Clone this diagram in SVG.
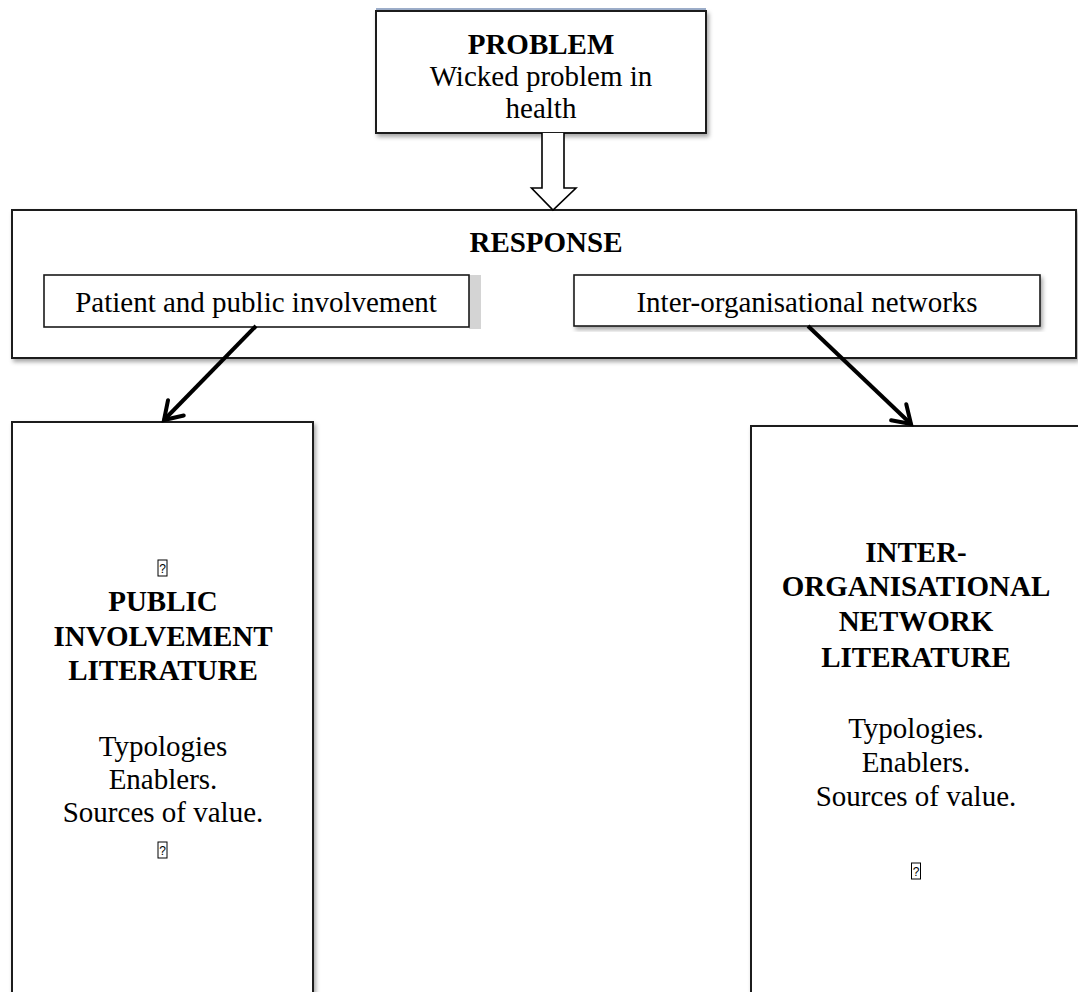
<svg xmlns="http://www.w3.org/2000/svg" width="1078" height="992" viewBox="0 0 1078 992">
  <style>
    .box { fill: #ffffff; stroke: #1a1a1a; stroke-width: 2; }
    .inner { fill: #ffffff; stroke: #1a1a1a; stroke-width: 1.6; }
    .t { font-family: "Liberation Serif", "Times New Roman", serif; font-size: 29px; fill: #000; text-anchor: middle; }
    .b { font-weight: bold; }
    .tofu-box { fill: #ffffff; stroke: #000; stroke-width: 1; }
    .tofu-q { font-family: "Liberation Sans", Arial, sans-serif; font-size: 12px; fill: #000; text-anchor: middle; }
    .conn { stroke: #000; stroke-width: 4; fill: none; }
  </style>
  <defs>
    <filter id="shadow" x="-5%" y="-5%" width="115%" height="115%">
      <feDropShadow dx="2" dy="3" stdDeviation="2" flood-color="#000" flood-opacity="0.35"/>
    </filter>
    <marker id="chev" viewBox="-22 -14 26 28" markerWidth="26" markerHeight="28" refX="0" refY="0" orient="auto" markerUnits="userSpaceOnUse">
      <path d="M -17 -11 L 0 0 L -17 11" fill="none" stroke="#000" stroke-width="4" stroke-linejoin="miter" stroke-linecap="round"/>
    </marker>
    <!-- placeholder glyph box used for the unrenderable bullet characters -->
    <g id="tofu">
      <rect class="tofu-box" x="-4.5" y="-16" width="9" height="16"/>
      <text class="tofu-q" x="0" y="-3.5">?</text>
    </g>
  </defs>

  <rect width="1078" height="992" fill="#ffffff"/>

  <!-- problem statement -->
  <g id="problem">
    <line x1="376" y1="9" x2="706" y2="9" stroke="#7d93b8" stroke-width="1.5"/>
    <rect class="box" x="376" y="11" width="330" height="122" filter="url(#shadow)"/>
    <text class="t b" x="541" y="54">PROBLEM</text>
    <text class="t" x="541" y="86">Wicked problem in</text>
    <text class="t" x="541" y="118">health</text>
  </g>

  <!-- response container -->
  <g id="response">
    <rect class="box" x="12" y="210" width="1064" height="148" filter="url(#shadow)"/>
    <text class="t b" x="546" y="252">RESPONSE</text>
  </g>

  <g id="ppi">
    <rect x="469" y="275" width="12" height="54" fill="#d4d4d4"/>
    <rect class="inner" x="44" y="275" width="425" height="52"/>
    <text class="t" x="256" y="312">Patient and public involvement</text>
  </g>

  <g id="ion">
    <rect class="inner" x="574" y="275" width="466" height="51" filter="url(#shadow)"/>
    <text class="t" x="807" y="312">Inter-organisational networks</text>
  </g>

  <!-- literature columns -->
  <g id="pi-literature">
    <rect class="box" x="12" y="422" width="301" height="600" filter="url(#shadow)"/>
    <use href="#tofu" x="162.5" y="576"/>
    <text class="t b" x="163" y="611">PUBLIC</text>
    <text class="t b" x="163" y="646">INVOLVEMENT</text>
    <text class="t b" x="163" y="680">LITERATURE</text>
    <text class="t" x="163" y="756">Typologies</text>
    <text class="t" x="163" y="789">Enablers.</text>
    <text class="t" x="163" y="822">Sources of value.</text>
    <use href="#tofu" x="162.5" y="858"/>
  </g>

  <g id="ion-literature">
    <rect class="box" x="751" y="426" width="340" height="600" filter="url(#shadow)"/>
    <text class="t b" x="916" y="562">INTER-</text>
    <text class="t b" x="916" y="596">ORGANISATIONAL</text>
    <text class="t b" x="916" y="631">NETWORK</text>
    <text class="t b" x="916" y="667">LITERATURE</text>
    <text class="t" x="916" y="738">Typologies.</text>
    <text class="t" x="916" y="772">Enablers.</text>
    <text class="t" x="916" y="806">Sources of value.</text>
    <use href="#tofu" x="916" y="879"/>
  </g>

  <!-- connectors -->
  <g id="connectors">
    <path d="M 542 133 L 542 188 L 531.5 188 L 553 210 L 576 188 L 564 188 L 564 133" fill="#ffffff" stroke="#000" stroke-width="1.6" stroke-linejoin="miter"/>
    <line class="conn" x1="256" y1="326" x2="164" y2="420" marker-end="url(#chev)"/>
    <line class="conn" x1="808" y1="326" x2="911" y2="424" marker-end="url(#chev)"/>
  </g>
</svg>
